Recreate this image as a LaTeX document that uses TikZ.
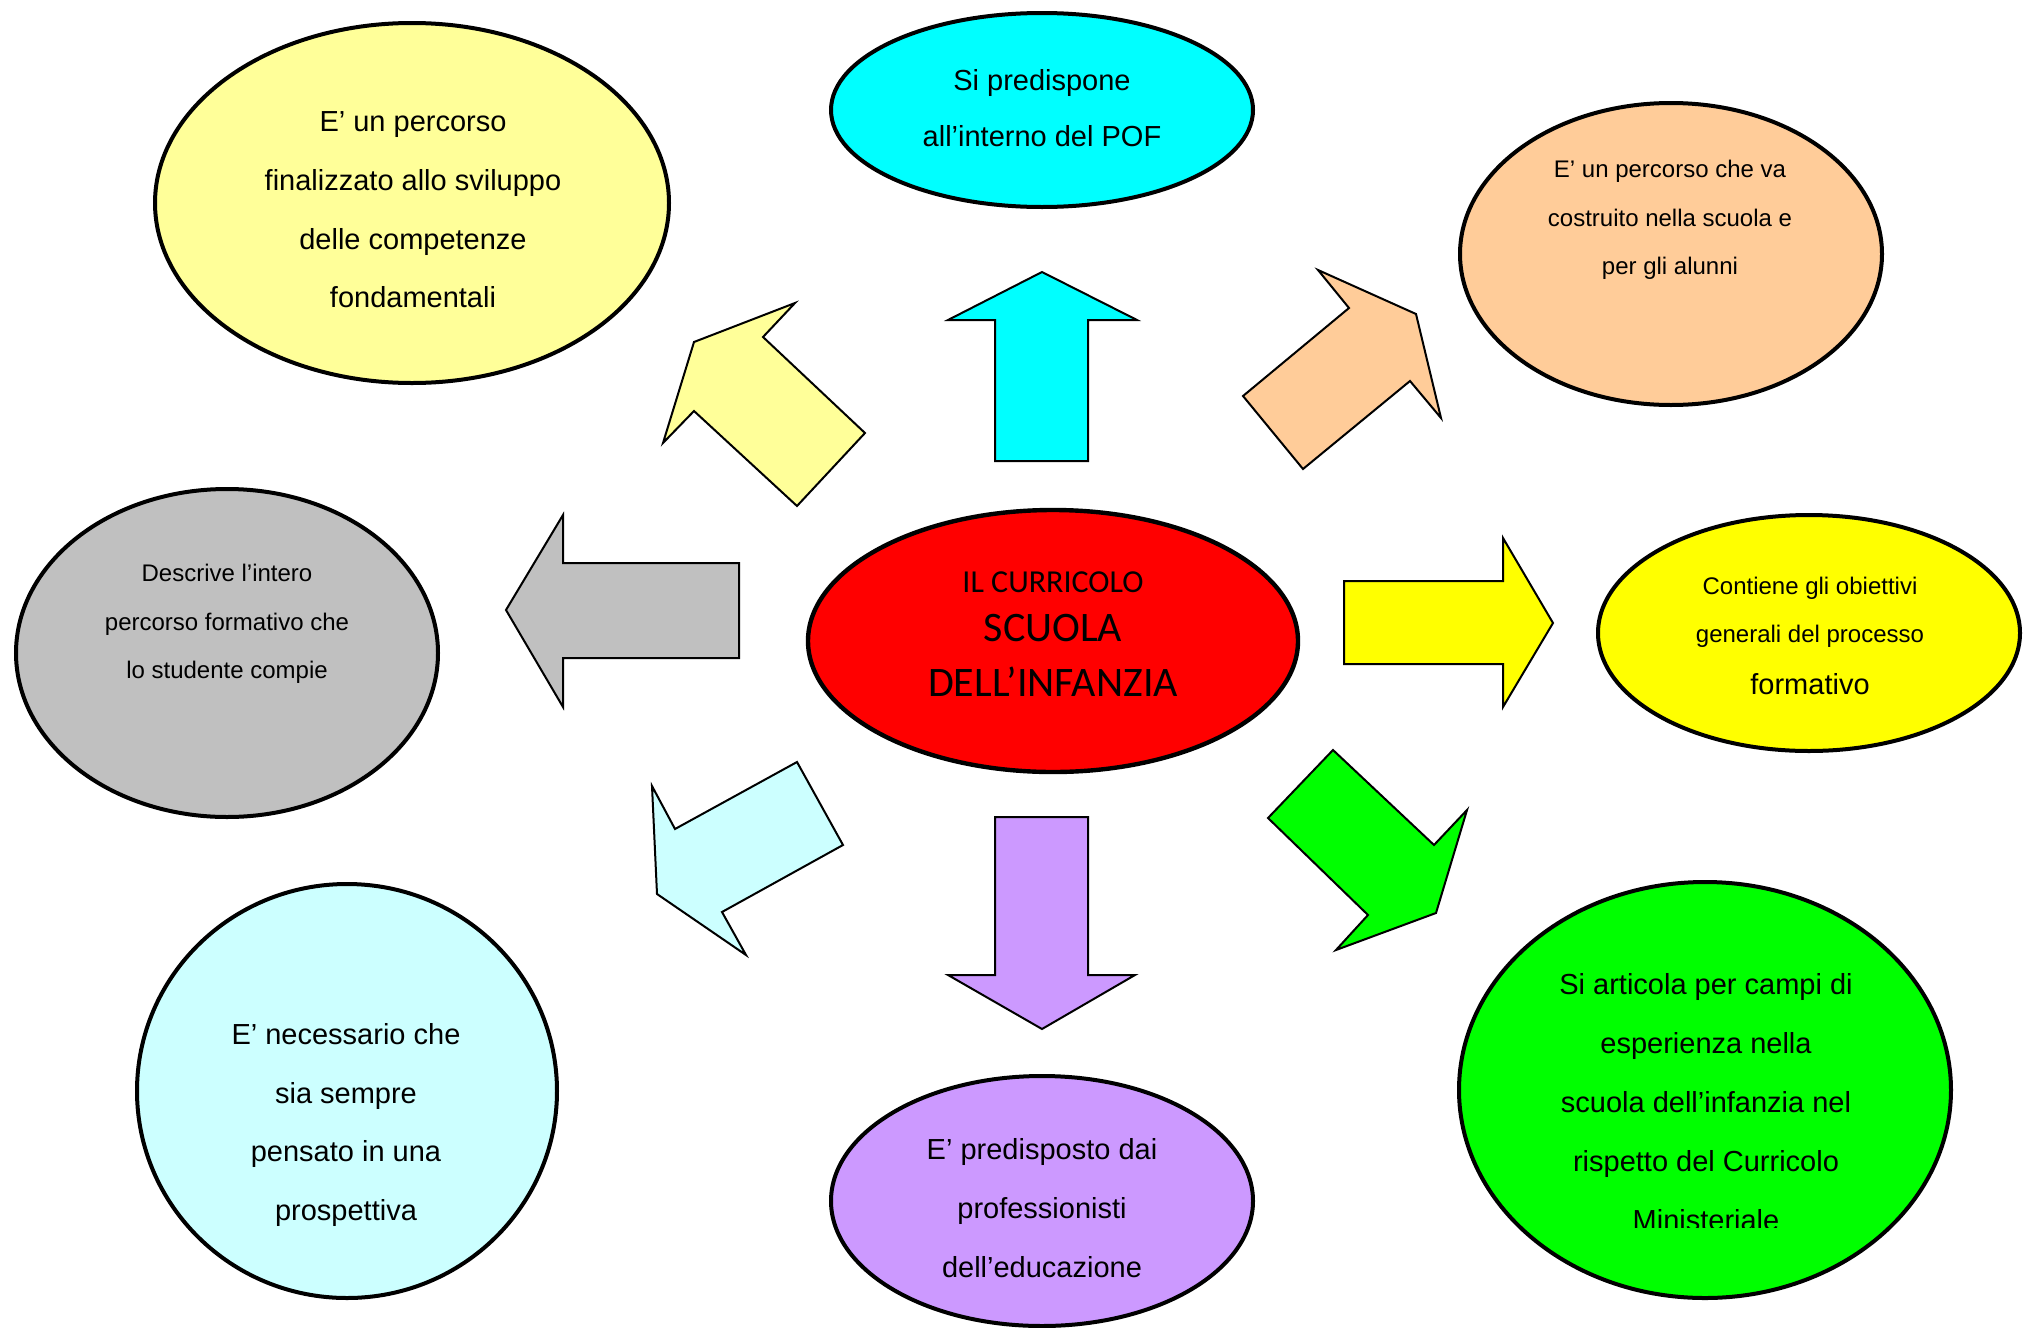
\documentclass[tikz,border=0pt]{standalone}
\usepackage{fontspec}
\setmainfont{Liberation Sans}
\newfontfamily\calibrifont{Carlito}
\usetikzlibrary{shapes.geometric}
\definecolor{cLightYellow}{HTML}{FFFF99}
\definecolor{cCyan}{HTML}{00FFFF}
\definecolor{cPeach}{HTML}{FFCC99}
\definecolor{cGray}{HTML}{C0C0C0}
\definecolor{cYellow}{HTML}{FFFF00}
\definecolor{cLightCyan}{HTML}{CCFFFF}
\definecolor{cPurple}{HTML}{CC99FF}
\definecolor{cGreen}{HTML}{00FF00}
\definecolor{cRed}{HTML}{FF0000}
\begin{document}
\begin{tikzpicture}[x=0.5pt,y=-0.5pt,
  bubble/.style={ellipse, draw=black, line width=2pt, inner sep=0pt},
  blockarrow/.style={draw=black, line width=1pt, line join=miter},
  txt/.style={align=center, inner sep=0pt, text=black}]
\useasboundingbox[fill=white] (0,0) rectangle (2030,1328);

% ellipses
\node[bubble, fill=cLightYellow, minimum width=257pt, minimum height=180pt] (e1) at (412,203) {};
\node[bubble, fill=cCyan, minimum width=211pt, minimum height=97pt] (e2) at (1042,110) {};
\node[bubble, fill=cPeach, minimum width=211pt, minimum height=151pt] (e3) at (1671,254) {};
\node[bubble, fill=cGray, minimum width=211pt, minimum height=164pt] (e4) at (227,653) {};
\node[bubble, fill=cYellow, minimum width=211pt, minimum height=118pt] (e5) at (1809,633) {};
\node[bubble, fill=cRed, line width=2.2pt, minimum width=245pt, minimum height=131pt] (ec) at (1053,641) {};
\node[bubble, fill=cGreen, minimum width=246pt, minimum height=208pt] (e6) at (1705,1090) {};
\node[bubble, fill=cLightCyan, minimum width=210pt, minimum height=207pt] (e7) at (347,1091) {};
\node[bubble, fill=cPurple, minimum width=211pt, minimum height=125pt] (e8) at (1042,1201) {};

% texts
\node[txt, font=\fontsize{14.5}{29.3}\selectfont] (t1) at (413,210) {E’ un percorso\\finalizzato allo sviluppo\\delle competenze\\fondamentali};
\node[txt, font=\fontsize{14.5}{28}\selectfont] (t2) at (1042,108) {Si predispone\\all’interno del POF};
\node[txt, font=\fontsize{12}{24.3}\selectfont] (t3) at (1670,220) {E’ un percorso che va\\costruito nella scuola e\\per gli alunni};
\node[txt, font=\fontsize{12}{24.3}\selectfont] (t4) at (227,624) {Descrive l’intero\\percorso formativo che\\lo studente compie};
\node[txt, font=\fontsize{12}{24}\selectfont] (t5) at (1810,636) {Contiene gli obiettivi\\generali del processo\\[2pt]{\fontsize{14.5}{24}\selectfont formativo}};
\node[txt, font=\calibrifont\fontsize{16}{19}\selectfont] (tc1) at (1053,582) {IL CURRICOLO};
\node[txt, font=\calibrifont\fontsize{21}{24}\selectfont] (tc2) at (1053,628) {SCUOLA};
\node[txt, font=\calibrifont\fontsize{21}{24}\selectfont] (tc3) at (1053,682) {DELL’INFANZIA};
\begin{scope}
\clip (0,0) rectangle (2030,1227);
\node[txt, font=\fontsize{14.5}{29.5}\selectfont] (t6) at (1706,1102) {Si articola per campi di\\esperienza nella\\scuola dell’infanzia nel\\rispetto del Curricolo\\Ministeriale};
\end{scope}
\node[txt, font=\fontsize{14.5}{29.3}\selectfont] (t7) at (346,1125) {E’ necessario che\\sia sempre\\pensato in una\\prospettiva};
\node[txt, font=\fontsize{14.5}{29.5}\selectfont] (t8) at (1042,1208) {E’ predisposto dai\\professionisti\\dell’educazione};

% block arrows
\draw[blockarrow, fill=cLightYellow] (795,303) -- (763,337) -- (865,433) -- (797,506) -- (694,411) -- (663,443) -- (694,342) -- cycle;
\draw[blockarrow, fill=cCyan] (1042,272) -- (1137,320) -- (1088,320) -- (1088,461) -- (995,461) -- (995,320) -- (948,320) -- cycle;
\draw[blockarrow, fill=cPeach] (1318,270) -- (1349,308) -- (1243,396) -- (1303,469) -- (1410,381) -- (1441,418) -- (1416,314) -- cycle;
\draw[blockarrow, fill=cGray] (506,610) -- (563,515) -- (563,563) -- (739,563) -- (739,658) -- (563,658) -- (563,707) -- cycle;
\draw[blockarrow, fill=cYellow] (1344,581) -- (1503,581) -- (1503,538) -- (1553,623) -- (1503,707) -- (1503,664) -- (1344,664) -- cycle;
\draw[blockarrow, fill=cLightCyan] (652,786) -- (675,829) -- (797,762) -- (843,845) -- (722,912) -- (746,955) -- (657,894) -- cycle;
\draw[blockarrow, fill=cPurple] (995,817) -- (1088,817) -- (1088,975) -- (1135,975) -- (1042,1029) -- (948,975) -- (995,975) -- cycle;
\draw[blockarrow, fill=cGreen] (1333,750) -- (1434,845) -- (1467,810) -- (1436,913) -- (1336,950) -- (1368,915) -- (1268,818) -- cycle;
\end{tikzpicture}
\end{document}
